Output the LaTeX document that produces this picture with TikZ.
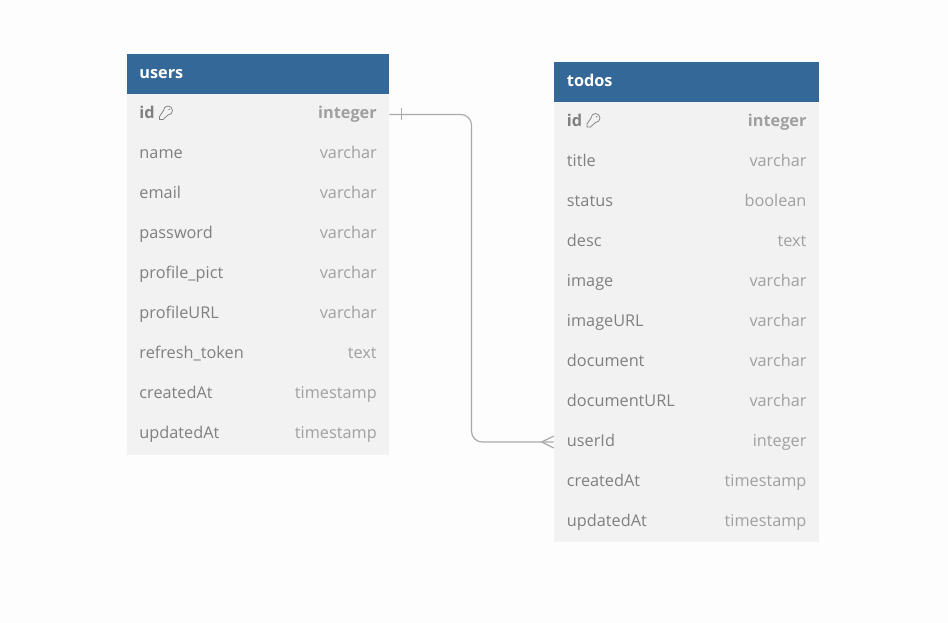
\documentclass[tikz,border=0pt]{standalone}
\usepackage{fontspec}
\setmainfont{Open Sans}
\definecolor{headblue}{RGB}{51, 104, 152}
\definecolor{pagewhite}{RGB}{253, 253, 253}
\definecolor{rowgray}{RGB}{242, 242, 242}
\definecolor{namegray}{RGB}{128, 128, 128}
\definecolor{typegray}{RGB}{160, 160, 160}
\definecolor{linkgray}{RGB}{170, 170, 170}
\tikzset{
  headbox/.style={fill=headblue, inner sep=0pt, minimum height=30pt},
  rowbox/.style={fill=rowgray, inner sep=0pt, minimum height=30.05pt},
  headtext/.style={anchor=base west, inner sep=0pt, text=white, font=\fontsize{12.2}{14}\selectfont\bfseries},
  fieldname/.style={anchor=base west, inner sep=0pt, text=namegray, font=\fontsize{12.2}{14}\selectfont},
  fieldtype/.style={anchor=base east, inner sep=0pt, text=typegray, font=\fontsize{12.2}{14}\selectfont},
  keyicon/.style={draw=namegray, line width=0.55pt, line join=round},
  link/.style={draw=linkgray, line width=0.9pt}
}
\begin{document}
\begin{tikzpicture}[x=0.75pt, y=-0.75pt]
  % Page
  \fill[pagewhite] (0,0) rectangle (948,623);
  \useasboundingbox (0,0) rectangle (948,623);
  % Users table
  \node[headbox, minimum width=196.5pt] (usershead) at (258,74) {};
  \node[headtext] (userstitle) at (139.2,78.8) {users};
  \foreach \fname/\ftype [count=\i] in {name/varchar, email/varchar, password/varchar,
      profile\textunderscore pict/varchar, profileURL/varchar, refresh\textunderscore token/text,
      createdAt/timestamp, updatedAt/timestamp} {
    \node[rowbox, minimum width=196.5pt] (users-\i) at (258,{115+40*\i}) {};
    \node[fieldname] (usersname-\i) at (139.2,{118.6+40*\i}) {\fname};
    \node[fieldtype] (userstype-\i) at (377,{118.6+40*\i}) {\ftype};
  }
  \node[rowbox, minimum width=196.5pt] (users-id) at (258,114.5) {};
  \node[fieldname, font=\fontsize{12.2}{14}\selectfont\bfseries] (usersname-id) at (139.2,118.8) {id};
  \node[fieldtype, font=\fontsize{12.2}{14}\selectfont\bfseries] (userstype-id) at (377,118.8) {integer};
  % Todos table
  \node[headbox, minimum width=198.75pt] (todoshead) at (686.5,82) {};
  \node[headtext] (todostitle) at (566.7,86.8) {todos};
  \foreach \fname/\ftype [count=\i] in {title/varchar, status/boolean, desc/text, image/varchar,
      imageURL/varchar, document/varchar, documentURL/varchar, userId/integer,
      createdAt/timestamp, updatedAt/timestamp} {
    \node[rowbox, minimum width=198.75pt] (todos-\i) at (686.5,{122+40*\i}) {};
    \node[fieldname] (todosname-\i) at (566.7,{126.6+40*\i}) {\fname};
    \node[fieldtype] (todostype-\i) at (806.7,{126.6+40*\i}) {\ftype};
  }
  \node[rowbox, minimum width=198.75pt] (todos-id) at (686.5,122) {};
  \node[fieldname, font=\fontsize{12.2}{14}\selectfont\bfseries] (todosname-id) at (566.7,126.8) {id};
  \node[fieldtype, font=\fontsize{12.2}{14}\selectfont\bfseries] (todostype-id) at (806.7,126.8) {integer};
  % Key icons
  \foreach \kx/\ky in {166/113, 593.5/120.5} {
    \draw[keyicon] (\kx-2.5,\ky-2.5) -- (\kx-6.5,\ky+3.5) -- (\kx-6.5,\ky+6.5) -- (\kx-3,\ky+6.5)
      -- (\kx+2,\ky+2) arc[start angle=90, end angle=-180, radius=4.5];
    \fill[namegray] (\kx+3.2,\ky-3.7) circle (0.8);
  }
  % Relation
  \coordinate (bendtop) at (471.5,114.5);
  \draw[link, rounded corners=8pt] (users-id.east) -- (bendtop) -- (bendtop |- todos-8.west) -- (todos-8.west);
  \draw[link] ([xshift=9pt,yshift=-4.5pt]users-id.east) -- ([xshift=9pt,yshift=4.5pt]users-id.east);
  \draw[link] ([xshift=-9pt]todos-8.west) -- ([yshift=4.5pt]todos-8.west);
  \draw[link] ([xshift=-9pt]todos-8.west) -- ([yshift=-4.5pt]todos-8.west);
\end{tikzpicture}
\end{document}
